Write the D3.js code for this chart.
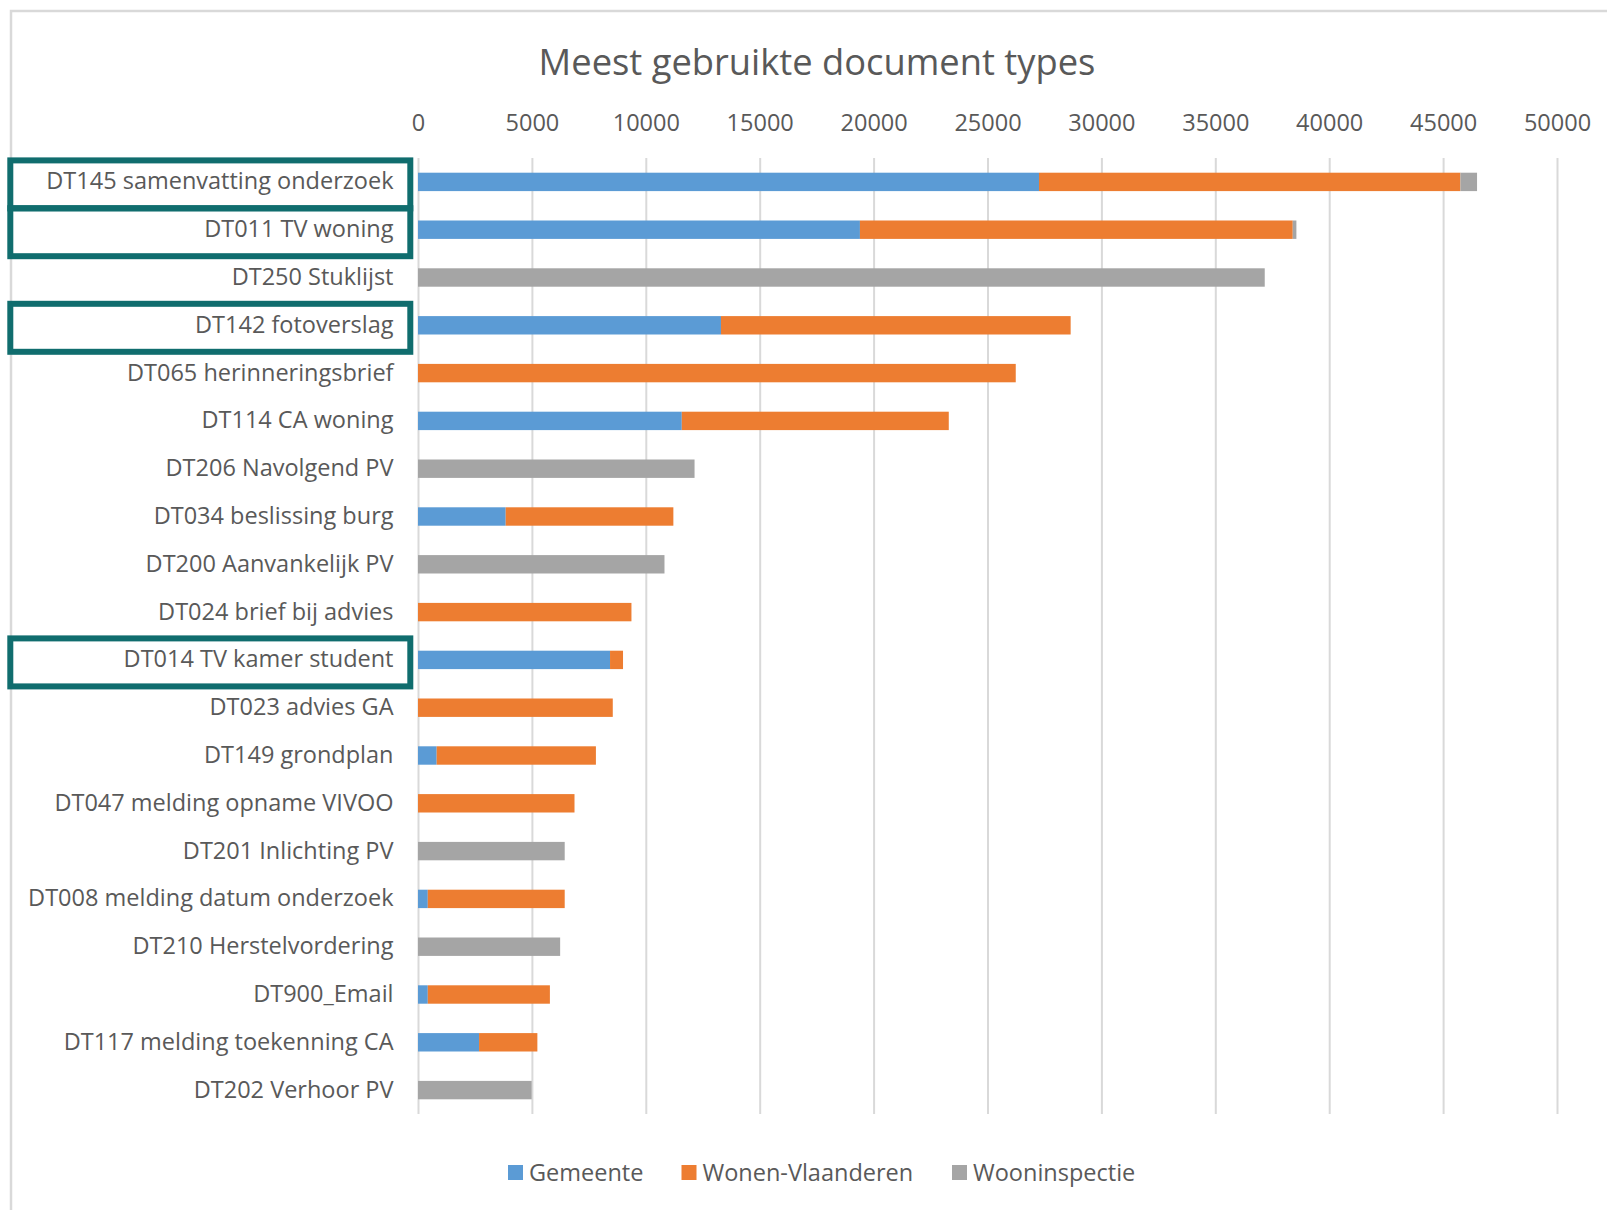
<!DOCTYPE html>
<html>
<head>
<meta charset="utf-8">
<script src="https://cdn.jsdelivr.net/npm/d3@7"></script>
<style>
  body { margin: 0; background: #fff; }
  text { font-family: 'Open Sans', sans-serif; fill: #595959; }
</style>
</head>
<body>
<div id="chart-container"></div>
<script>
// Data
const categories = [
  'DT145 samenvatting onderzoek', 'DT011 TV woning', 'DT250 Stuklijst', 'DT142 fotoverslag',
  'DT065 herinneringsbrief', 'DT114 CA woning', 'DT206 Navolgend PV', 'DT034 beslissing burg',
  'DT200 Aanvankelijk PV', 'DT024 brief bij advies', 'DT014 TV kamer student', 'DT023 advies GA',
  'DT149 grondplan', 'DT047 melding opname VIVOO', 'DT201 Inlichting PV', 'DT008 melding datum onderzoek',
  'DT210 Herstelvordering', 'DT900_Email', 'DT117 melding toekenning CA', 'DT202 Verhoor PV'
];
const gemeente = [27260, 19400, 0, 13300, 0, 11580, 0, 3850, 0, 0, 8430, 0, 820, 0, 0, 430, 0, 430, 2680, 0];
const wonenVlaanderen = [18500, 19000, 0, 15350, 26240, 11720, 0, 7360, 0, 9370, 570, 8550, 6990, 6870, 0, 6010, 0, 5360, 2560, 0];
const wooninspectie = [730, 160, 37170, 0, 0, 0, 12140, 0, 10820, 0, 0, 0, 0, 0, 6440, 0, 6240, 0, 0, 4990];
const seriesNames = ['Gemeente', 'Wonen-Vlaanderen', 'Wooninspectie'];
const seriesColors = ['#5B9BD5', '#ED7D31', '#A5A5A5'];
const tickValues = [0, 5000, 10000, 15000, 20000, 25000, 30000, 35000, 40000, 45000, 50000];
const highlighted = ['DT145 samenvatting onderzoek', 'DT011 TV woning', 'DT142 fotoverslag', 'DT014 TV kamer student'];

const W = 1607, H = 1210;
const plot = { left: 418, right: 1557, top: 158, bottom: 1114 };

const svg = d3.select('#chart-container')
  .append('svg')
  .attr('width', W)
  .attr('height', H);

// chart frame (top and left edges visible)
svg.append('path')
  .attr('d', `M11,${H} L11,11 L${W},11`)
  .attr('fill', 'none')
  .attr('stroke', '#d9d9d9')
  .attr('stroke-width', 2.5);

svg.append('text')
  .attr('x', 817)
  .attr('y', 75)
  .attr('text-anchor', 'middle')
  .style('font-size', '36.3px')
  .text('Meest gebruikte document types');

const rows = categories.map((c, i) => ({
  cat: c,
  Gemeente: gemeente[i],
  'Wonen-Vlaanderen': wonenVlaanderen[i],
  Wooninspectie: wooninspectie[i]
}));

const x = d3.scaleLinear().domain([0, 50000]).range([plot.left, plot.right]);
const y = d3.scaleBand().domain(categories).range([plot.top, plot.bottom]).paddingInner(0.615).paddingOuter(0.3075);

// gridlines
svg.append('g')
  .attr('transform', `translate(0,${plot.top})`)
  .call(d3.axisBottom(x).tickValues(tickValues).tickSize(plot.bottom - plot.top).tickFormat(''))
  .call(g => g.select('.domain').remove())
  .selectAll('line')
  .attr('stroke', '#d9d9d9')
  .attr('stroke-width', 2);

// tick labels on top
svg.append('g')
  .attr('transform', 'translate(0,131)')
  .call(d3.axisTop(x).tickValues(tickValues).tickSize(0).tickPadding(0).tickFormat(d3.format('d')))
  .call(g => g.select('.domain').remove())
  .selectAll('text')
  .style('font-size', '23.5px')
  .attr('fill', '#595959');

// stacked bars
const stack = d3.stack().keys(seriesNames)(rows);
svg.append('g')
  .selectAll('g')
  .data(stack)
  .enter()
  .append('g')
  .attr('fill', (d, i) => seriesColors[i])
  .selectAll('rect')
  .data(d => d)
  .enter()
  .append('rect')
  .attr('x', d => x(d[0]))
  .attr('y', d => y(d.data.cat))
  .attr('width', d => x(d[1]) - x(d[0]))
  .attr('height', y.bandwidth());

// category labels
svg.append('g')
  .attr('transform', `translate(${plot.left},0)`)
  .call(d3.axisLeft(y).tickSize(0).tickPadding(24.5))
  .call(g => g.select('.domain').remove())
  .selectAll('text')
  .style('font-size', '23.5px')
  .attr('fill', '#595959');

// highlight boxes around some labels
svg.append('g')
  .selectAll('rect')
  .data(highlighted)
  .enter()
  .append('rect')
  .attr('x', 10.3)
  .attr('y', d => y(d) + y.bandwidth() / 2 + 2.5 - 24)
  .attr('width', 400)
  .attr('height', 48)
  .attr('fill', 'none')
  .attr('stroke', '#106d6e')
  .attr('stroke-width', 6);

// legend
const legendX = [508, 681.5, 952];
const legend = svg.append('g')
  .selectAll('g')
  .data(seriesNames)
  .enter()
  .append('g')
  .attr('transform', (d, i) => `translate(${legendX[i]},1165)`);
legend.append('rect')
  .attr('width', 15)
  .attr('height', 15)
  .attr('fill', (d, i) => seriesColors[i]);
legend.append('text')
  .attr('x', 21)
  .attr('y', 16)
  .style('font-size', '23.5px')
  .text(d => d);
</script>
</body>
</html>
